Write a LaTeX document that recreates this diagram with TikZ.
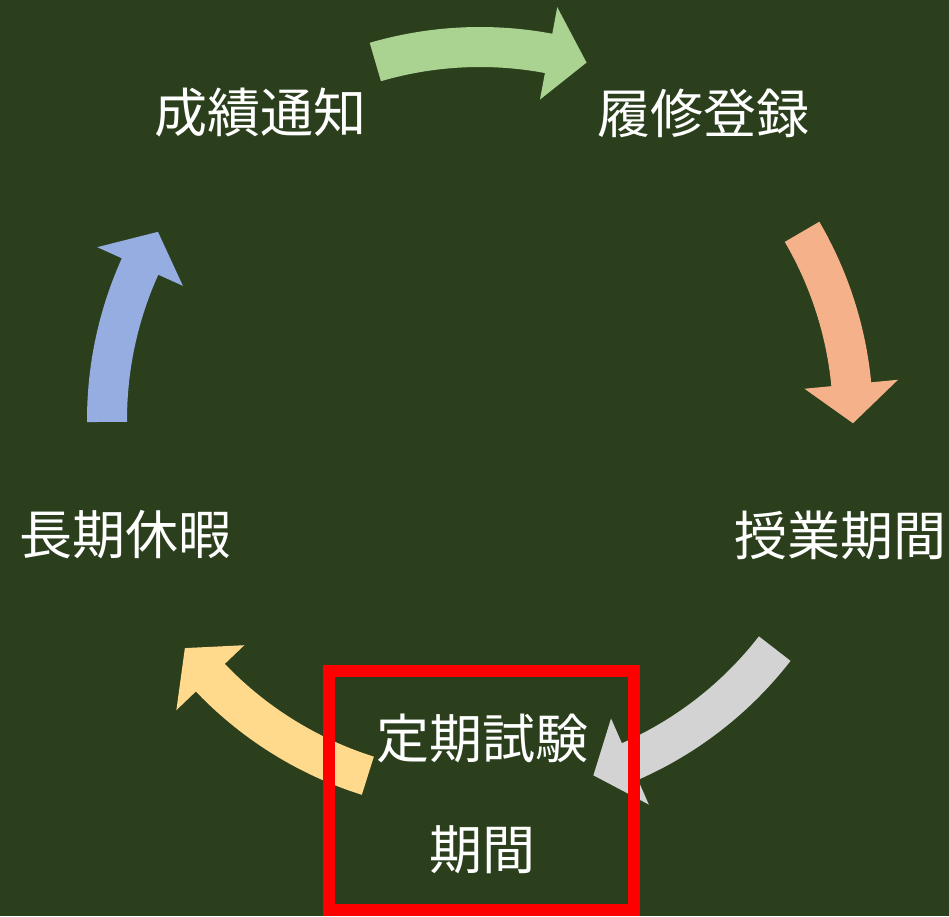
\documentclass[tikz,border=0pt]{standalone}
\usepackage{fontspec}
\setmainfont{Noto Sans CJK JP}
\definecolor{bgc}{HTML}{2B3F1D}
\definecolor{agreen}{HTML}{AAD392}
\definecolor{asalmon}{HTML}{F5B28A}
\definecolor{agrey}{HTML}{D3D3D3}
\definecolor{ayellow}{HTML}{FFD98C}
\definecolor{ablue}{HTML}{95ADE0}
\tikzset{
  lbl/.style={text=white, inner sep=0pt, font=\fontsize{53}{60}\selectfont},
  frame/.style={draw=red, line width=12pt},
}
% #1 colour, #2 tail angle, #3 tip angle
\newcommand{\cyclearrow}[3]{%
  \pgfmathsetmacro{\hb}{#3+6}%
  \fill[#1] (#2:393pt) arc[start angle=#2, end angle=\hb, radius=393pt]
    -- (\hb:420pt) -- (#3:373pt) -- (\hb:326pt) -- (\hb:353pt)
    arc[start angle=\hb, end angle=#2, radius=353pt] -- cycle;}
\begin{document}
\begin{tikzpicture}[x=1pt,y=1pt]
\fill[bgc] (0,0) rectangle (949,916);
\useasboundingbox (0,0) rectangle (949,916);
\coordinate (C) at (480,496);
\begin{scope}[shift={(C)}]
  \cyclearrow{agreen}{106.3}{73.4}
  \cyclearrow{asalmon}{30.3}{-0.5}
  \cyclearrow{agrey}{-37.8}{-72.3}
  \cyclearrow{ayellow}{-107.5}{-142.3}
  \cyclearrow{ablue}{180.3}{149.7}
\end{scope}
\node[lbl] (n1) at (260,803) {成績通知};
\node[lbl] (n2) at (703,803) {履修登録};
\node[lbl] (n3) at (840,381) {授業期間};
\node[lbl] (n5) at (125,381) {長期休暇};
\node[lbl] (n4a) at (482,178) {定期試験};
\node[lbl] (n4b) at (482,66) {期間};
\draw[frame] (328.5,6) rectangle (633.5,245);
\end{tikzpicture}
\end{document}
